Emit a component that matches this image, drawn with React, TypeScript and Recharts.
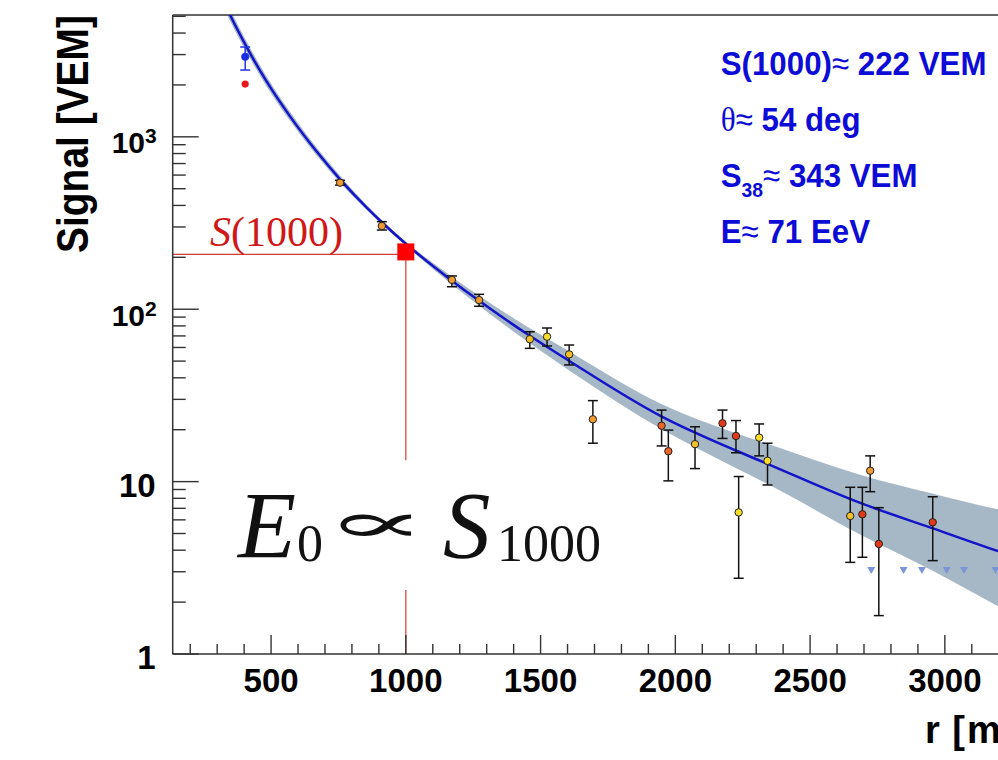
import React from "react";
import {
  ComposedChart,
  XAxis,
  YAxis,
  Line,
  Area,
  Scatter,
  ErrorBar,
  ReferenceLine,
} from "recharts";

// ---------- data ----------
// lateral distribution fit (r in m, signal in VEM) and its uncertainty band
const fitR = [300, 348, 404, 484, 571, 670, 756, 855, 911, 1000, 1171, 1272, 1460, 1602, 1948, 2224, 2337, 2691, 2953, 3198, 3300];
const fitS = [7400, 5088, 3440, 2090, 1310, 818.5, 567, 388.5, 319.6, 239.6, 146.5, 111.9, 70.1, 50.6, 23.9, 15.15, 12.77, 7.47, 5.37, 3.95, 3.5];
const bandLo = [6830, 4696, 3196, 1955, 1234, 775.9, 541.1, 375.7, 310.1, 233.3, 138.9, 104.7, 63.4, 44.6, 20.2, 12.0, 9.78, 4.88, 3.05, 1.89, 1.56];
const bandHi = [8017, 5512, 3702, 2234, 1391, 863.4, 594.2, 401.7, 329.3, 246.1, 154.5, 119.6, 77.5, 57.4, 28.2, 19.1, 16.7, 10.9, 8.54, 6.9, 6.43];

// triggered stations
const stR = [756, 911, 1171, 1272, 1460, 1524, 1606, 1694, 1949, 1974, 2073, 2175, 2225, 2311, 2342, 2235, 2649, 2694, 2723, 2755, 2955];
const stS = [542, 304, 148, 113, 67, 69.3, 54.7, 23.0, 21.1, 15.0, 16.5, 21.8, 18.4, 18.0, 13.2, 6.63, 6.32, 6.46, 11.57, 4.35, 5.81];
const stLo = [525, 288, 135, 104, 59.3, 61.2, 47.5, 16.7, 16.1, 10.1, 11.9, 17.8, 14.7, 14.1, 9.56, 2.75, 3.4, 3.64, 8.74, 1.67, 3.48];
const stHi = [560, 322, 156, 122, 74, 77.8, 62, 29.5, 26.0, 19.9, 20.8, 26.0, 22.6, 21.6, 16.7, 10.7, 9.27, 9.27, 14.1, 7.06, 8.17];
// station category (0 yellow .. 4 red)
const stCat = [2, 2, 2, 2, 1, 0, 1, 2, 3, 3, 1, 4, 4, 0, 0, 0, 1, 4, 2, 4, 4];

// saturated station (blue, with recovered signal) and its raw value (red)
const satR = [404];
const satS = [2915];
const satLo = [2440];
const satHi = [3319];
const rawR = [404];
const rawS = [2024];

// silent stations (upper limits)
const silentR = [2727, 2847, 2915, 3007, 3071, 3188];
const silentS = [3.07, 3.07, 3.07, 3.07, 3.07, 3.07];

// S(1000)
const s1000R = [1000];
const s1000S = [215];
const s1000Line = 208;

// axes
const xDomain = [135, 3300];
const yDomain = [1, 5090];
const xMajorTicks = [500, 1000, 1500, 2000, 2500, 3000];
const xMinorTicks = [200, 300, 400, 600, 700, 800, 900, 1100, 1200, 1300, 1400, 1600, 1700, 1800, 1900, 2100, 2200, 2300, 2400, 2600, 2700, 2800, 2900, 3100, 3200];
const yMajorTicks = [1, 10, 100, 1000];
const yTickBase = ["1", "10", "10", "10"];
const yTickSup = ["", "", "2", "3"];
const yMinorTicks = [2, 3, 4, 5, 6, 7, 8, 9, 20, 30, 40, 50, 60, 70, 80, 90, 200, 300, 400, 500, 600, 700, 800, 900, 2000, 3000, 4000, 5000];

// ---------- tables ----------
const fitData = fitR.map((r, i) => ({ r, fit: fitS[i], band: [bandLo[i], bandHi[i]] }));
const stations = stR.map((r, i) => ({
  r,
  s: stS[i],
  err: [stS[i] - stLo[i], stHi[i] - stS[i]],
  cat: stCat[i],
}));
const satData = satR.map((r, i) => ({ r, s: satS[i], err: [satS[i] - satLo[i], satHi[i] - satS[i]] }));
const rawData = rawR.map((r, i) => ({ r, s: rawS[i] }));
const silentData = silentR.map((r, i) => ({ r, s: silentS[i] }));
const s1000Data = s1000R.map((r, i) => ({ r, s: s1000S[i] }));
const xTicks = [...xMajorTicks, ...xMinorTicks].sort((a, b) => a - b);
const yTicks = [...yMajorTicks, ...yMinorTicks].sort((a, b) => a - b);

// ---------- styles ----------
const sans = "'Liberation Sans', Arial, Helvetica, sans-serif";
const serif = "'Liberation Serif', 'Times New Roman', serif";
const catColors = ["#f7de2c", "#f3c02c", "#f09a30", "#ec6424", "#e23a18"];
const axisColor = "#333";
const statBlue = "#0c0cd6";
const red = "#d01818";

function XTick(props: any) {
  const { x, y, payload } = props;
  const v = payload.value;
  const major = xMajorTicks.includes(v);
  return (
    <g>
      <line x1={x} x2={x} y1={y} y2={y - (major ? 19 : 10)} stroke={axisColor} strokeWidth={1.4} />
      {major && (
        <text x={x} y={y + 37.5} textAnchor="middle" fontFamily={sans} fontWeight={700} fontSize={33} fill="#000">
          {v}
        </text>
      )}
    </g>
  );
}

function YTick(props: any) {
  const { x, y, payload } = props;
  const v = payload.value;
  const i = yMajorTicks.indexOf(v);
  const major = i >= 0;
  return (
    <g>
      <line x1={x} x2={x + (major ? 26 : 13)} y1={y} y2={y} stroke={axisColor} strokeWidth={1.4} />
      {major &&
        (yTickSup[i] ? (
          <text x={x - 16} y={y + 16.5} textAnchor="end" fontFamily={sans} fontWeight={700} fontSize={30} fill="#000">
            {yTickBase[i]}
            <tspan dy={-10} fontSize={21}>
              {yTickSup[i]}
            </tspan>
          </text>
        ) : (
          <text x={x - 17} y={y + 15} textAnchor="end" fontFamily={sans} fontWeight={700} fontSize={33} fill="#000">
            {yTickBase[i]}
          </text>
        ))}
    </g>
  );
}

function StationDot(props: any) {
  const { cx, cy, payload } = props;
  if (cx == null || cy == null) return <g />;
  return <circle cx={cx} cy={cy} r={3.7} fill={catColors[payload.cat]} stroke="#222" strokeWidth={1} />;
}

function SatDot(props: any) {
  const { cx, cy } = props;
  if (cx == null || cy == null) return <g />;
  return <circle cx={cx} cy={cy} r={3.8} fill="#1a2ee8" stroke="#1a2ee8" strokeWidth={0.5} />;
}

function RawDot(props: any) {
  const { cx, cy } = props;
  if (cx == null || cy == null) return <g />;
  return <circle cx={cx} cy={cy} r={3.6} fill="#e81818" />;
}

function SilentTri(props: any) {
  const { cx, cy } = props;
  if (cx == null || cy == null) return <g />;
  return <polygon points={`${cx - 4},${cy - 3} ${cx + 4},${cy - 3} ${cx},${cy + 4}`} fill="#7b95d6" />;
}

function S1000Square(props: any) {
  const { cx, cy } = props;
  if (cx == null || cy == null) return <g />;
  return <rect x={cx - 8.5} y={cy - 8.5} width={17} height={17} fill="#ff0000" />;
}

export default function App() {
  return (
    <div
      style={{
        position: "absolute",
        left: 0,
        top: 0,
        width: 998,
        height: 760,
        overflow: "hidden",
        background: "#fff",
      }}
    >
      <ComposedChart width={1040} height={760} margin={{ top: 15, right: 14.3, bottom: 0, left: 0 }}>
        <XAxis
          type="number"
          dataKey="r"
          domain={xDomain}
          allowDataOverflow
          ticks={xTicks}
          interval={0}
          tick={<XTick />}
          tickLine={false}
          tickSize={0}
          tickMargin={0}
          height={106}
          axisLine={{ stroke: axisColor, strokeWidth: 1.5 }}
        />
        <YAxis
          type="number"
          scale="log"
          domain={yDomain}
          allowDataOverflow
          ticks={yTicks}
          interval={0}
          tick={<YTick />}
          tickLine={false}
          tickSize={0}
          tickMargin={0}
          width={172.7}
          axisLine={{ stroke: axisColor, strokeWidth: 1.5 }}
        />
        <ReferenceLine y={yDomain[1]} stroke={axisColor} strokeWidth={1.5} ifOverflow="visible" />
        <Area
          data={fitData}
          dataKey="band"
          type="monotone"
          fill="#a6b7c6"
          fillOpacity={1}
          stroke="none"
          isAnimationActive={false}
        />
        <Line
          data={fitData}
          dataKey="fit"
          type="monotone"
          stroke="#1414c8"
          strokeWidth={2.5}
          dot={false}
          isAnimationActive={false}
        />
        <ReferenceLine
          segment={[
            { x: xDomain[0], y: s1000Line },
            { x: 1000, y: s1000Line },
          ]}
          stroke="#d23a3a"
          strokeWidth={1.2}
        />
        <ReferenceLine
          segment={[
            { x: 1000, y: s1000Line },
            { x: 1000, y: 13.3 },
          ]}
          stroke="#d23a3a"
          strokeWidth={1.2}
        />
        <ReferenceLine
          segment={[
            { x: 1000, y: 2.35 },
            { x: 1000, y: 1 },
          ]}
          stroke="#d23a3a"
          strokeWidth={1.2}
        />
        <Scatter data={silentData} dataKey="s" shape={<SilentTri />} isAnimationActive={false} />
        <Scatter data={stations} dataKey="s" shape={<StationDot />} isAnimationActive={false}>
          <ErrorBar dataKey="err" direction="y" width={5} stroke="#111" strokeWidth={1.5} isAnimationActive={false} />
        </Scatter>
        <Scatter data={satData} dataKey="s" shape={<SatDot />} isAnimationActive={false}>
          <ErrorBar dataKey="err" direction="y" width={5} stroke="#2233dd" strokeWidth={1.5} isAnimationActive={false} />
        </Scatter>
        <Scatter data={rawData} dataKey="s" shape={<RawDot />} isAnimationActive={false} />
        <Scatter data={s1000Data} dataKey="s" shape={<S1000Square />} isAnimationActive={false} />
      </ComposedChart>

      <svg
        width={998}
        height={760}
        style={{ position: "absolute", left: 0, top: 0, pointerEvents: "none" }}
      >
        {/* y axis title */}
        <g transform="translate(88,134) rotate(-90) scale(0.885,1)">
          <text x={0} y={0} textAnchor="middle" fontFamily={sans} fontWeight={700} fontSize={44} fill="#000">
            Signal [VEM]
          </text>
        </g>
        {/* x axis title */}
        <text x={925} y={743} fontFamily={sans} fontWeight={700} fontSize={38} fill="#000">
          {"r "}
          <tspan dx={2}>[</tspan>
          <tspan dx={2}>m]</tspan>
        </text>

        {/* S(1000) label */}
        <text x={210} y={246} fontFamily={serif} fontSize={42} fill={red}>
          <tspan fontStyle="italic">S</tspan>
          {"(1000)"}
        </text>

        {/* E0 ∝ S1000 */}
        <text x={238} y={558} fontFamily={serif} fontStyle="italic" fontSize={95} fill="#111">
          E
        </text>
        <text x={297} y={561} fontFamily={serif} fontSize={52} fill="#111">
          0
        </text>
        <g transform="translate(324,542) scale(1.8,0.66)">
          <text x={0} y={0} fontFamily="'DejaVu Serif', 'DejaVu Sans', serif" fontSize={85} fill="#111">
            ∝
          </text>
        </g>
        <text x={443} y={558} fontFamily={serif} fontStyle="italic" fontSize={95} fill="#111">
          S
        </text>
        <text x={497} y={561} fontFamily={serif} fontSize={52} fill="#111">
          1000
        </text>

        {/* fit results */}
        <g transform="translate(720.7,75) scale(0.92,1)">
          <text x={0} y={0} fontFamily={sans} fontWeight={700} fontSize={34} fill={statBlue}>
            S(1000)
            <tspan fontWeight={400}>≈</tspan>
            {" 222 VEM"}
          </text>
        </g>
        <g transform="translate(720.7,131) scale(0.92,1)">
          <text x={0} y={0} fontFamily={sans} fontWeight={700} fontSize={34} fill={statBlue}>
            <tspan fontFamily={serif} fontWeight={400}>θ</tspan>
            <tspan fontWeight={400}>≈</tspan>
            {" 54 deg"}
          </text>
        </g>
        <g transform="translate(720.7,187) scale(0.92,1)">
          <text x={0} y={0} fontFamily={sans} fontWeight={700} fontSize={34} fill={statBlue}>
            S
            <tspan dy={9.5} fontSize={21}>
              38
            </tspan>
            <tspan dy={-9.5} fontWeight={400}>
              ≈
            </tspan>
            {" 343 VEM"}
          </text>
        </g>
        <g transform="translate(720.7,243) scale(0.92,1)">
          <text x={0} y={0} fontFamily={sans} fontWeight={700} fontSize={34} fill={statBlue}>
            E<tspan fontWeight={400}>≈</tspan>
            {" 71 EeV"}
          </text>
        </g>
      </svg>
    </div>
  );
}
